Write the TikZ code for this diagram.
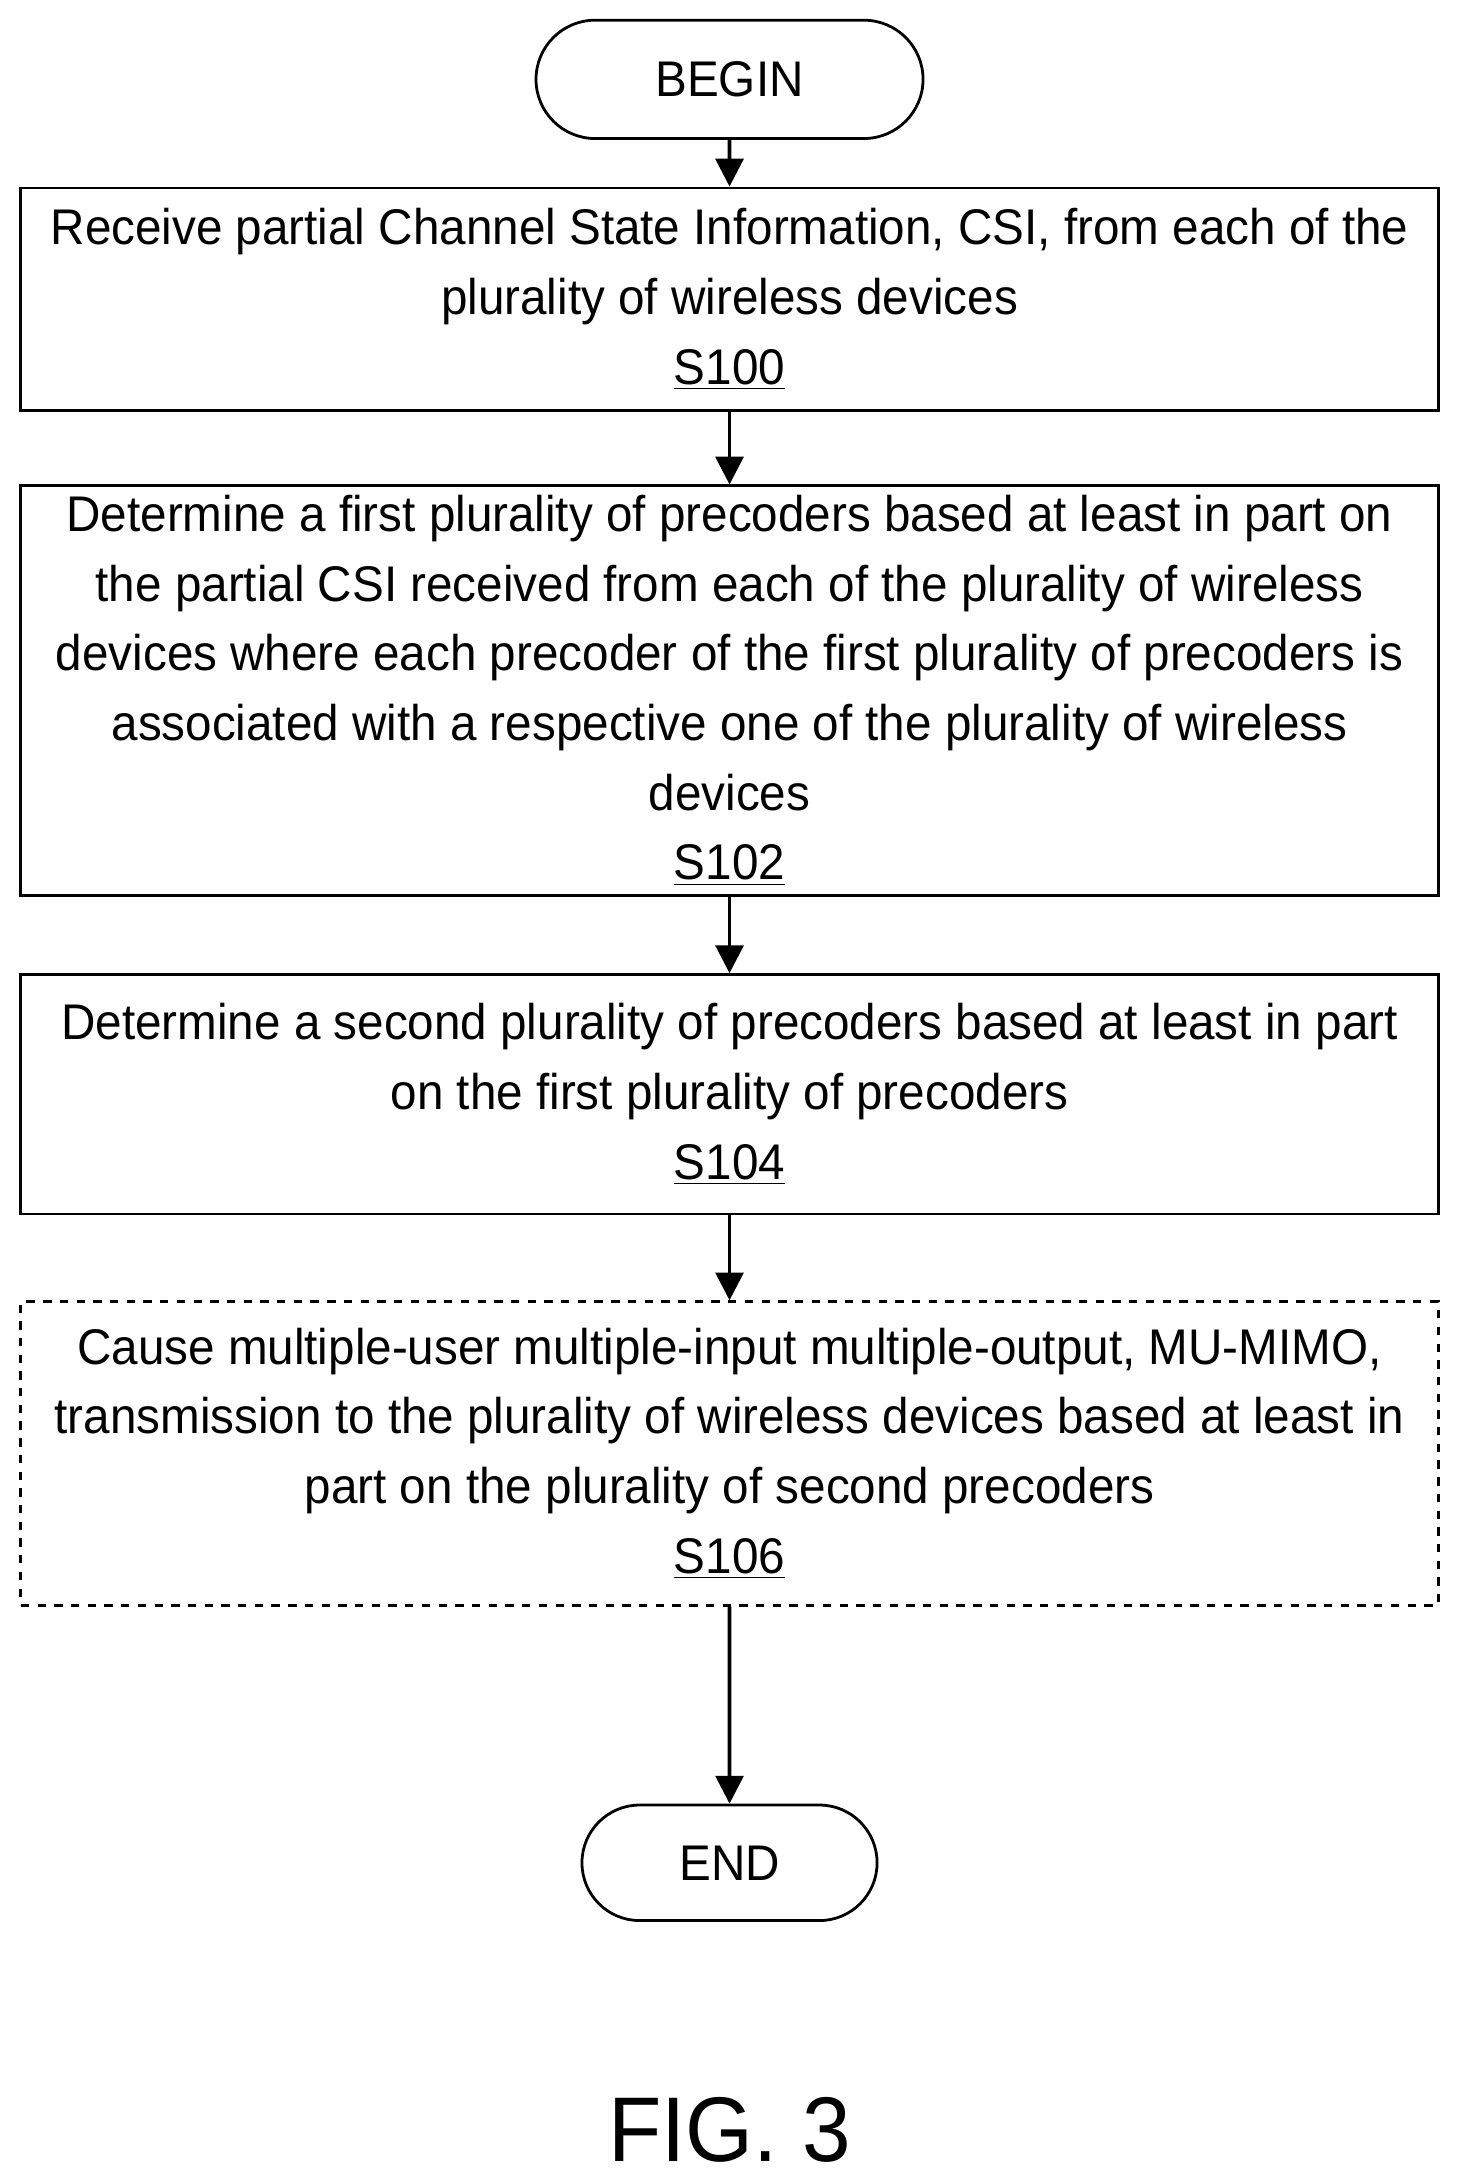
\documentclass[tikz,border=0pt]{standalone}
\usepackage{fontspec}
\setmainfont{Liberation Sans}[FakeStretch=0.95]
\usetikzlibrary{arrows.meta,shapes.misc}
\tikzset{
    stepbox/.style={rectangle,draw=black,line width=1pt,minimum width=509pt,align=center,
        font=\fontsize{18}{25}\selectfont,inner sep=0pt},
    term/.style={rounded rectangle,draw=black,line width=1pt,font=\fontsize{18}{22}\selectfont,inner sep=0pt},
    flow/.style={-{Triangle[length=10pt,width=10pt]},line width=1.3pt}}
\begin{document}
\begin{tikzpicture}[x=0.5pt,y=-0.5pt]
\useasboundingbox (0,0) rectangle (1050,1568);

% terminals
\node[term,minimum width=139pt,minimum height=42.5pt] (begin) at (524,57) {BEGIN};
\node[term,minimum width=106pt,minimum height=41.5pt] (end) at (524,1338) {END};

% steps
\node[stepbox,minimum height=80pt] (s100) at (524,215)
    {Receive partial Channel State Information, CSI, from each of the\\
     plurality of wireless devices\\ \underline{S100}};
\node[stepbox,minimum height=147pt] (s102) at (524,496)
    {Determine a first plurality of precoders based at least in part on\\
     the partial CSI received from each of the plurality of wireless\\
     devices where each precoder of the first plurality of precoders is\\
     associated with a respective one of the plurality of wireless\\
     devices\\ \underline{S102}};
\node[stepbox,minimum height=86pt] (s104) at (524,786)
    {Determine a second plurality of precoders based at least in part\\
     on the first plurality of precoders\\ \underline{S104}};
\node[stepbox,dashed,minimum height=109pt] (s106) at (524,1044)
    {Cause multiple-user multiple-input multiple-output, MU-MIMO,\\
     transmission to the plurality of wireless devices based at least in\\
     part on the plurality of second precoders\\ \underline{S106}};

% connectors
\draw[flow] (begin) -- (s100);
\draw[flow] (s100) -- (s102);
\draw[flow] (s102) -- (s104);
\draw[flow] (s104) -- (s106);
\draw[flow] (s106) -- (end);

\node[font=\fontsize{33}{35}\selectfont] (fig) at (524,1530) {FIG. 3};
\end{tikzpicture}
\end{document}
